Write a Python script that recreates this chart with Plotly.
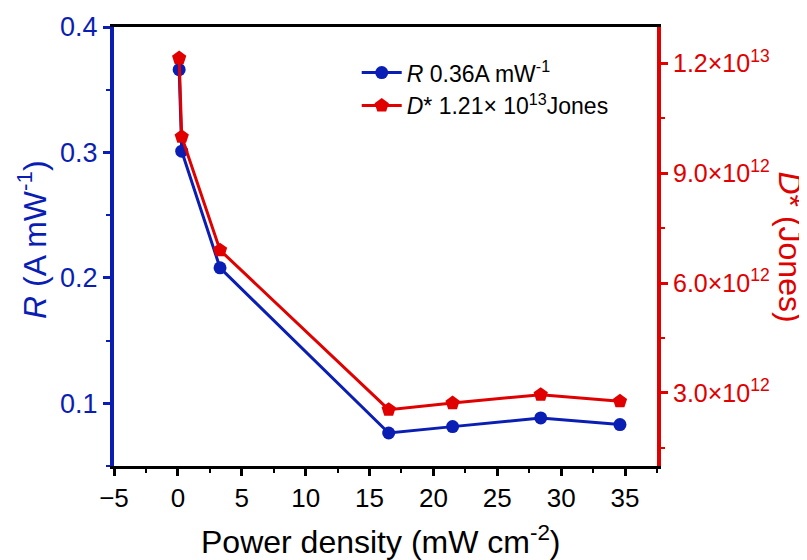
import plotly.graph_objects as go

# ---- data ----
power_density = [0.1, 0.3, 3.3, 16.5, 21.5, 28.4, 34.6]
responsivity = [0.366, 0.301, 0.208, 0.0763, 0.0814, 0.0883, 0.083]
detectivity = [1.215e13, 1.0e13, 6.9e12, 2.54e12, 2.72e12, 2.95e12, 2.77e12]

x_tickvals = [-5, 0, 5, 10, 15, 20, 25, 30, 35]
left_tickvals = [0.1, 0.2, 0.3, 0.4]
right_tickvals = [3e12, 6e12, 9e12, 1.2e13]
right_ticktext = ["3.0×10<sup>12</sup>", "6.0×10<sup>12</sup>",
                  "9.0×10<sup>12</sup>", "1.2×10<sup>13</sup>"]

BLUE = "#0A1EB4"
RED = "#E00000"
FONT = "Liberation Sans, Arial, sans-serif"

fig = go.Figure()
fig.add_trace(go.Scatter(
    x=power_density, y=responsivity, mode="lines+markers",
    name="<i>R</i> 0.36A mW<sup>-1</sup>",
    line=dict(color=BLUE, width=3),
    marker=dict(symbol="circle", size=13, color=BLUE),
    yaxis="y"))
fig.add_trace(go.Scatter(
    x=power_density, y=detectivity, mode="lines+markers",
    name="<i>D</i>* 1.21× 10<sup>13</sup>Jones",
    line=dict(color=RED, width=3),
    marker=dict(symbol="pentagon", size=15, color=RED),
    yaxis="y2"))

# the page adds an 8 px body margin, so the figure is drawn 8 px smaller
fig.update_layout(
    width=799, height=552,
    margin=dict(l=106, r=150, t=19, b=94, autoexpand=False),
    paper_bgcolor="white", plot_bgcolor="white",
    font=dict(family=FONT, size=24, color="black"),
    showlegend=True,
    legend=dict(x=0.447, y=0.945, xanchor="left", yanchor="top",
                bgcolor="rgba(0,0,0,0)", font=dict(size=23, family=FONT),
                itemwidth=40, tracegroupgap=0),
    xaxis=dict(range=[-5, 37.5], tickvals=x_tickvals, showgrid=False, zeroline=False,
               automargin=False,
               showline=True, linecolor="black", linewidth=3, mirror=True,
               ticks="outside", ticklen=7, tickwidth=2.5, tickcolor="black",
               tickfont=dict(size=26, color="black"),
               minor=dict(dtick=2.5, tick0=-5, ticks="outside", ticklen=4,
                          tickwidth=2, tickcolor="black")),
    yaxis=dict(range=[0.05, 0.4], tickvals=left_tickvals, showgrid=False, zeroline=False,
               automargin=False,
               showline=True, linecolor=BLUE, linewidth=4,
               ticks="outside", ticklen=7, tickwidth=2.5, tickcolor=BLUE,
               tickfont=dict(size=27, color=BLUE),
               minor=dict(dtick=0.05, tick0=0, ticks="outside", ticklen=4,
                          tickwidth=2, tickcolor=BLUE)),
    yaxis2=dict(range=[1.0e12, 1.3e13], tickvals=right_tickvals, ticktext=right_ticktext,
                overlaying="y", side="right", showgrid=False, zeroline=False,
                automargin=False,
                showline=True, linecolor=RED, linewidth=4,
                ticks="outside", ticklen=7, tickwidth=2.5, tickcolor=RED,
                tickfont=dict(size=25, color=RED),
                minor=dict(dtick=1.5e12, tick0=0, ticks="outside", ticklen=4,
                           tickwidth=2, tickcolor=RED)),
)

fig.add_annotation(text="<i>R</i> (A mW<sup>-1</sup>)", xref="paper", yref="paper",
                   x=-0.151, y=0.515, xanchor="center", yanchor="middle",
                   textangle=-90, showarrow=False,
                   font=dict(size=32, color=BLUE, family=FONT))
fig.add_annotation(text="<i>D</i>* (Jones)", xref="paper", yref="paper",
                   x=1.245, y=0.50, xanchor="center", yanchor="middle",
                   textangle=90, showarrow=False,
                   font=dict(size=32, color=RED, family=FONT))
fig.add_annotation(text="Power density (mW cm<sup>-2</sup>)", xref="paper", yref="paper",
                   x=0.492, y=-0.168, yanchor="middle", showarrow=False,
                   font=dict(size=32, color="black", family=FONT))

fig.write_html("out.html")
